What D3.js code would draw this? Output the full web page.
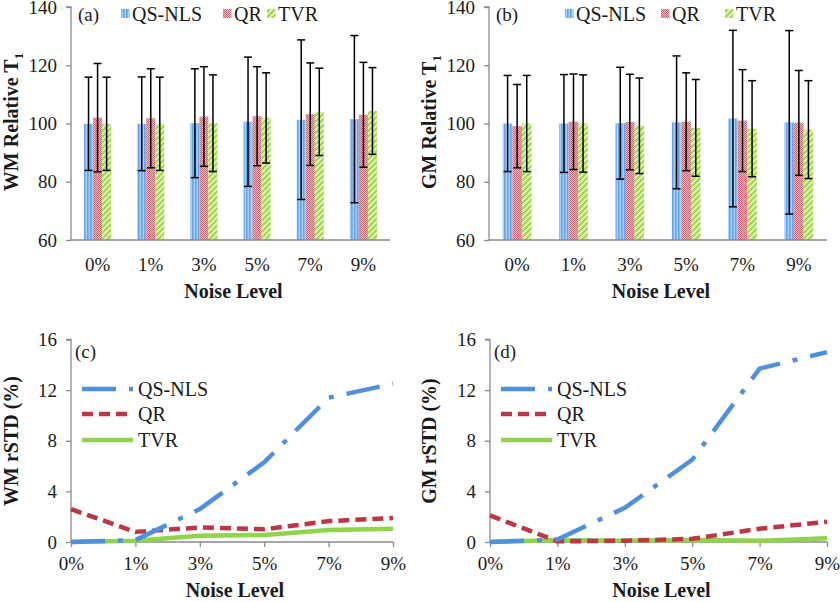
<!DOCTYPE html>
<html><head><meta charset="utf-8">
<script src="https://cdn.jsdelivr.net/npm/d3@7"></script>
<style>
body{margin:0;background:#fff;}
svg{display:block;}
svg text{font-family:"Liberation Serif","DejaVu Serif","Times New Roman",serif !important;}
</style></head>
<body>
<svg id="chart" width="840" height="602"></svg>
<script>
// ---------- data ----------
const categories = ["0%","1%","3%","5%","7%","9%"];
const seriesNames = ["QS-NLS","QR","TVR"];
const barTicks = [60,80,100,120,140];
const lineTicks = [0,4,8,12,16];

// (a) WM relative T1 : mean and error
const wmMeanQS  = [99.9, 99.9, 100.1, 100.6, 101.3, 101.5];
const wmErrQS   = [16.0, 16.1, 18.7, 22.2, 27.4, 28.7];
const wmMeanQR  = [102.0, 101.8, 102.4, 102.5, 103.2, 103.0];
const wmErrQR   = [18.6, 17.0, 17.1, 17.0, 17.6, 18.0];
const wmMeanTVR = [99.9, 99.9, 100.1, 101.9, 104.0, 104.3];
const wmErrTVR  = [16.0, 16.0, 16.6, 15.5, 15.0, 14.9];

// (b) GM relative T1
const gmMeanQS  = [100.0, 100.0, 100.1, 100.4, 101.7, 100.4];
const gmErrQS   = [16.5, 16.8, 19.2, 22.8, 30.3, 31.5];
const gmMeanQR  = [99.1, 100.6, 100.5, 100.6, 101.0, 100.2];
const gmErrQR   = [14.3, 16.4, 16.4, 16.8, 17.5, 18.0];
const gmMeanTVR = [100.0, 100.0, 99.2, 98.5, 98.2, 97.9];
const gmErrTVR  = [16.5, 16.7, 16.4, 16.6, 16.5, 16.8];

// (c) WM rSTD (%)
const wmStdQS  = [0, 0.15, 2.6, 6.3, 11.4, 12.5];
const wmStdQR  = [2.6, 0.8, 1.15, 1.0, 1.65, 1.9];
const wmStdTVR = [0, 0.1, 0.5, 0.55, 0.95, 1.05];

// (d) GM rSTD (%)
const gmStdQS  = [0, 0.2, 2.7, 6.5, 13.7, 15.0];
const gmStdQR  = [2.1, 0.05, 0.1, 0.25, 1.05, 1.6];
const gmStdTVR = [0, 0.15, 0.1, 0.15, 0.1, 0.3];

// ---------- drawing ----------
const FONT = "Liberation Serif, DejaVu Serif, serif";
const svg = d3.select("#chart");
const defs = svg.append("defs");
const AXIS = "#8a8a8a", TXT = "#1a1a1a";

// patterns
const pB = defs.append("pattern").attr("id","patQS").attr("patternUnits","userSpaceOnUse").attr("width",3).attr("height",3);
pB.append("rect").attr("width",3).attr("height",3).attr("fill","#a9d0f6");
pB.append("rect").attr("width",1.6).attr("height",3).attr("fill","#62a5ec");
const pR = defs.append("pattern").attr("id","patQR").attr("patternUnits","userSpaceOnUse").attr("width",2).attr("height",2);
pR.append("rect").attr("width",2).attr("height",2).attr("fill","#eeb3bc");
pR.append("rect").attr("width",1).attr("height",1).attr("fill","#cf6474");
pR.append("rect").attr("x",1).attr("y",1).attr("width",1).attr("height",1).attr("fill","#cf6474");
const pG = defs.append("pattern").attr("id","patTVR").attr("patternUnits","userSpaceOnUse").attr("width",4).attr("height",4).attr("patternTransform","rotate(45)");
pG.append("rect").attr("width",4).attr("height",4).attr("fill","#e0f5b4");
pG.append("rect").attr("width",2).attr("height",4).attr("fill","#9ed64a");

const barFills = {"QS-NLS":"url(#patQS)","QR":"url(#patQR)","TVR":"url(#patTVR)"};
const lineColors = {"QS-NLS":"#4f8fe0","QR":"#be3546","TVR":"#8fd44a"};
const lineDash = {"QS-NLS":"34,13,5,13","QR":"11,6","TVR":null};

function txt(g){ return g.append("text").attr("font-family",FONT).attr("fill",TXT); }

function yTitle(g, x, y, main, sub){
  const t = txt(g).attr("transform",`translate(${x},${y}) rotate(-90)`)
    .attr("text-anchor","middle").attr("font-weight","bold").attr("font-size",20);
  t.append("tspan").text(main);
  if(sub){ t.append("tspan").attr("font-size",13).attr("dy",5).text(sub); }
}

function styleAxis(a){
  a.attr("font-family",FONT);
  a.selectAll("path,line").attr("stroke",AXIS).attr("stroke-width",1.3);
  a.selectAll("text").attr("font-size",19).attr("fill",TXT).attr("font-family",FONT);
}

function barPanel(opt){
  const g = svg.append("g");
  const x = d3.scaleBand().domain(categories).range([opt.x0,opt.x1]).paddingInner(0.49).paddingOuter(0.245);
  const xs = d3.scaleBand().domain(seriesNames).range([0,x.bandwidth()]);
  const y = d3.scaleLinear().domain([60,140]).range([240,7]);
  const data = [];
  seriesNames.forEach((s,si)=>{
    categories.forEach((c,ci)=>{ data.push({s,c,m:opt.means[si][ci],e:opt.errs[si][ci]}); });
  });
  g.selectAll("rect.bar").data(data).join("rect").attr("class","bar")
    .attr("x",d=>x(d.c)+xs(d.s)).attr("width",xs.bandwidth())
    .attr("y",d=>y(d.m)).attr("height",d=>y(60)-y(d.m)).attr("fill",d=>barFills[d.s]);
  const eb = g.selectAll("g.eb").data(data).join("g").attr("class","eb")
    .attr("transform",d=>`translate(${x(d.c)+xs(d.s)+xs.bandwidth()/2},0)`);
  eb.append("line").attr("y1",d=>y(d.m-d.e)).attr("y2",d=>y(d.m+d.e)).attr("stroke","#000").attr("stroke-width",1.5);
  eb.append("line").attr("x1",-4).attr("x2",4).attr("y1",d=>y(d.m+d.e)).attr("y2",d=>y(d.m+d.e)).attr("stroke","#000").attr("stroke-width",1.5);
  eb.append("line").attr("x1",-4).attr("x2",4).attr("y1",d=>y(d.m-d.e)).attr("y2",d=>y(d.m-d.e)).attr("stroke","#000").attr("stroke-width",1.5);
  const ya = g.append("g").attr("transform",`translate(${opt.x0},0)`)
    .call(d3.axisLeft(y).tickValues(barTicks).tickSize(5).tickPadding(9));
  styleAxis(ya);
  ya.select(".domain").attr("d",`M-5,7H0V240`);
  const xa = g.append("g").attr("transform",`translate(0,240)`)
    .call(d3.axisBottom(x).tickSize(0).tickPadding(18));
  styleAxis(xa);
  xa.select(".domain").attr("d",`M${opt.x0},0H${opt.x1}`);
  txt(g).attr("x",(opt.x0+opt.x1)/2+3).attr("y",298).attr("text-anchor","middle")
    .attr("font-weight","bold").attr("font-size",20).text("Noise Level");
  yTitle(g, opt.titleX, 122, opt.title, "1");
  txt(g).attr("x",opt.x0+7).attr("y",21).attr("font-size",19).text(opt.label);
  seriesNames.forEach((s,i)=>{
    g.append("rect").attr("x",opt.legX[i]).attr("y",9).attr("width",8.5).attr("height",9).attr("fill",barFills[s]);
    txt(g).attr("x",opt.legX[i]+11).attr("y",21).attr("font-size",20).text(s);
  });
}

function linePanel(opt){
  const g = svg.append("g");
  const x = d3.scalePoint().domain(categories).range([opt.x0,opt.x1]);
  const y = d3.scaleLinear().domain([0,16]).range([542,339.5]);
  const line = d3.line().x((d,i)=>x(categories[i])).y(d=>y(d));
  const ya = g.append("g").attr("transform",`translate(${opt.x0},0)`)
    .call(d3.axisLeft(y).tickValues(lineTicks).tickSize(5).tickPadding(9));
  styleAxis(ya);
  ya.select(".domain").attr("d",`M-5,339.5H0V542`);
  const xa = g.append("g").attr("transform",`translate(0,542)`)
    .call(d3.axisBottom(x).tickSize(5).tickPadding(10));
  styleAxis(xa);
  xa.select(".domain").attr("d",`M${opt.x0},0H${opt.x1}`);
  [2,1,0].forEach(si=>{
    const s = seriesNames[si];
    g.append("path").datum(opt.vals[si]).attr("d",line).attr("fill","none")
      .attr("stroke",lineColors[s]).attr("stroke-width",4.5)
      .attr("stroke-dasharray",lineDash[s]).attr("stroke-linejoin","round");
  });
  txt(g).attr("x",(opt.x0+opt.x1)/2+3).attr("y",597).attr("text-anchor","middle")
    .attr("font-weight","bold").attr("font-size",20).text("Noise Level");
  yTitle(g, opt.titleX, 441, opt.title, null);
  txt(g).attr("x",opt.x0+4).attr("y",358).attr("font-size",19).text(opt.label);
  const rows = [389,414,440];
  seriesNames.forEach((s,i)=>{
    g.append("line").attr("x1",opt.x0+11).attr("x2",opt.x0+62).attr("y1",rows[i]).attr("y2",rows[i])
      .attr("stroke",lineColors[s]).attr("stroke-width",4.5).attr("stroke-dasharray",lineDash[s]);
    txt(g).attr("x",opt.x0+67).attr("y",rows[i]+7).attr("font-size",20).text(s);
  });
}

barPanel({x0:71,x1:390,means:[wmMeanQS,wmMeanQR,wmMeanTVR],errs:[wmErrQS,wmErrQR,wmErrTVR],
  title:"WM Relative T",titleX:18,label:"(a)",legX:[121,223,267]});
barPanel({x0:489,x1:827,means:[gmMeanQS,gmMeanQR,gmMeanTVR],errs:[gmErrQS,gmErrQR,gmErrTVR],
  title:"GM Relative T",titleX:436,label:"(b)",legX:[565,661,725]});
linePanel({x0:71,x1:393,vals:[wmStdQS,wmStdQR,wmStdTVR],title:"WM rSTD (%)",titleX:18,label:"(c)"});
linePanel({x0:490,x1:827,vals:[gmStdQS,gmStdQR,gmStdTVR],title:"GM rSTD (%)",titleX:436,label:"(d)"});
</script>
</body></html>
